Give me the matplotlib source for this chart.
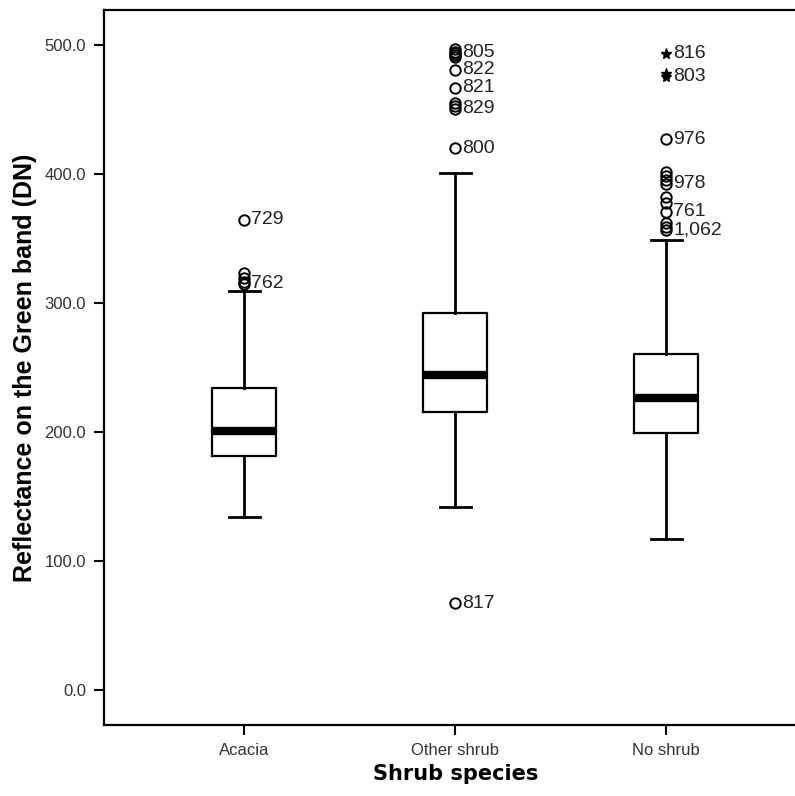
import matplotlib
matplotlib.use("Agg")
import matplotlib.pyplot as plt

categories = ["Acacia", "Other shrub", "No shrub"]

# box statistics (DN)
whisker_low = [134.3, 141.6, 117.0]
q1 = [181.6, 215.7, 199.2]
median = [200.8, 244.2, 226.4]
q3 = [234.0, 292.0, 260.5]
whisker_high = [309.3, 400.8, 348.8]

# outliers (circles) and extremes (stars) per group
acacia_out = [364.3, 323.3, 319.4, 316.3, 314.7]
other_out = [496.9, 494.6, 493.8, 492.2, 490.7, 480.6, 466.7, 455.0, 452.5, 450.4, 420.0, 67.4]
noshrub_out = [427.0, 401.6, 398.4, 395.3, 392.2, 382.0, 377.5, 370.5, 362.0, 359.0, 356.6]
noshrub_ext = [493.0, 477.5, 475.2]

# labelled cases: (group, value, label)
label_group = [0, 0, 1, 1, 1, 1, 1, 1, 2, 2, 2, 2, 2, 2]
label_value = [364.3, 314.7, 493.8, 480.6, 466.7, 450.4, 420.0, 67.4,
               493.0, 475.2, 427.0, 392.2, 370.5, 356.6]
label_text = ["729", "762", "805", "822", "821", "829", "800", "817",
              "816", "803", "976", "978", "761", "1,062"]

fig = plt.figure(figsize=(7.95, 7.96), dpi=100)
ax = fig.add_axes([104 / 795, 71 / 796, 702.5 / 795, 715 / 796])

stats = []
for i in range(len(categories)):
    stats.append({"whislo": whisker_low[i], "q1": q1[i], "med": median[i],
                  "q3": q3[i], "whishi": whisker_high[i], "fliers": []})

ax.bxp(stats, positions=range(len(categories)), widths=0.303,
       showfliers=False, capwidths=0.147,
       boxprops=dict(color="black", linewidth=1.6),
       whiskerprops=dict(color="black", linewidth=2.0),
       capprops=dict(color="black", linewidth=2.0),
       medianprops=dict(color="black", linewidth=6.0, solid_capstyle="butt"))

outs = [acacia_out, other_out, noshrub_out]
for i, vals in enumerate(outs):
    ax.plot([i] * len(vals), vals, "o", mfc="none", mec="black", ms=7.5, mew=1.4)
ax.plot([2] * len(noshrub_ext), noshrub_ext, "*", color="black", ms=8)

for g, v, t in zip(label_group, label_value, label_text):
    ax.annotate(t, (g, v), xytext=(5, 0), textcoords="offset points",
                va="center", ha="left", fontsize=14, color="#222222",
                family="Liberation Sans")

ax.set_xlim(-0.666, 2.666)
ax.set_ylim(-27.1, 527)
ax.set_yticks([0, 100, 200, 300, 400, 500])
ax.set_yticklabels(["0.0", "100.0", "200.0", "300.0", "400.0", "500.0"])
ax.set_xticks(range(len(categories)))
ax.set_xticklabels(categories)
for lab in ax.get_xticklabels() + ax.get_yticklabels():
    lab.set_family("Liberation Sans")
    lab.set_fontsize(12)
    lab.set_color("#333333")
ax.tick_params(length=7, width=1.5, color="black", pad=6)

for s in ax.spines.values():
    s.set_linewidth(1.6)

ax.set_xlabel("Shrub species", fontsize=15, fontweight="bold", family="DejaVu Sans", labelpad=4)
ax.set_ylabel("Reflectance on the Green band (DN)", fontsize=18, fontweight="bold",
              family="Liberation Sans", labelpad=5)

fig.savefig("out.png", dpi=100)
